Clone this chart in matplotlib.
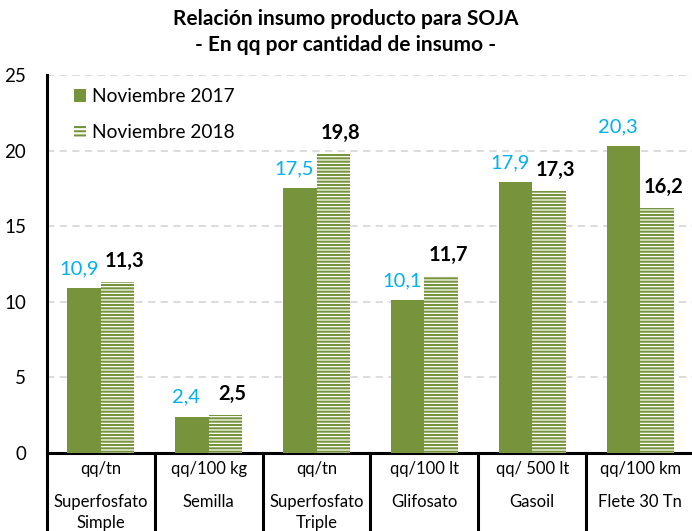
import matplotlib
matplotlib.use("Agg")
import matplotlib.pyplot as plt
from matplotlib.patches import Patch
import numpy as np

plt.rcParams['font.family'] = ['Lato', 'DejaVu Sans']
plt.rcParams['hatch.linewidth'] = 1.5

units = ["qq/tn", "qq/100 kg", "qq/tn", "qq/100 lt", "qq/ 500 lt", "qq/100 km"]
names = ["Superfosfato\nSimple", "Semilla", "Superfosfato\nTriple", "Glifosato", "Gasoil", "Flete 30 Tn"]
nov2017 = [10.9, 2.4, 17.5, 10.1, 17.9, 20.3]
nov2018 = [11.3, 2.5, 19.8, 11.7, 17.3, 16.2]
series_names = ["Noviembre 2017", "Noviembre 2018"]
yticks = [0, 5, 10, 15, 20, 25]

green = "#77933C"
blue = "#00B0F0"

W, H = 692, 531
fig = plt.figure(figsize=(W / 100, H / 100), dpi=100)
ax = fig.add_axes([47 / W, (H - 453) / H, (694 - 47) / W, (453 - 75) / H])

x = np.arange(len(units))
bw = 0.31
b1 = ax.bar(x - bw / 2, nov2017, bw, color=green, edgecolor=green, linewidth=0, zorder=3)
b2 = ax.bar(x + bw / 2, nov2018, bw, facecolor="white", edgecolor=green, hatch="-----",
            linewidth=0, zorder=3)

ax.set_xlim(-0.5, len(units) - 0.5)
ax.set_ylim(0, 25)
ax.set_yticks(yticks)
ax.set_yticklabels([str(t) for t in yticks], fontsize=13.5)
ax.tick_params(axis='y', length=0, pad=15)
ax.set_xticks([])
ax.yaxis.grid(True, color="#D9D9D9", linestyle=(0, (4, 3)), linewidth=1.3, zorder=0)
ax.set_axisbelow(True)
for s in ["top", "right"]:
    ax.spines[s].set_visible(False)
ax.spines["left"].set_linewidth(2.2)
ax.spines["bottom"].set_linewidth(2.2)

def fmt(v):
    return f"{v:.1f}".replace(".", ",")

for xi, v in zip(x, nov2017):
    ax.annotate(fmt(v), (xi - bw / 2, v), xytext=(-4, 8), textcoords="offset points",
                ha="center", va="bottom", color=blue, fontsize=14.5)
for xi, v in zip(x, nov2018):
    ax.annotate(fmt(v), (xi + bw / 2, v), xytext=(5, 8), textcoords="offset points",
                ha="center", va="bottom", color="black", fontsize=14.5, fontweight="bold")

# category table below axis
trans = ax.get_xaxis_transform()
for b in np.arange(len(units) + 1) - 0.5:
    ax.plot([b, b], [0, -0.3], transform=trans, color="black", linewidth=2.2, clip_on=False)
for xi, u, n in zip(x, units, names):
    ax.annotate(u, (xi, 0), xycoords=trans, xytext=(0, -11.5), textcoords="offset points",
                ha="center", va="center", fontsize=12)
    ax.annotate(n, (xi, 0), xycoords=trans, xytext=(0, -29.5), textcoords="offset points",
                ha="center", va="top", fontsize=12, linespacing=1.35)

handles = [Patch(facecolor=green, edgecolor=green, linewidth=0),
           Patch(facecolor="white", edgecolor=green, hatch="----", linewidth=0)]
ax.legend(handles, series_names, loc="upper left", bbox_to_anchor=(0.015, 1.01),
          frameon=False, fontsize=13.8, handlelength=0.65, handleheight=0.65,
          handletextpad=0.3, labelspacing=0.95)

fig.text(0.5, 1 - 19 / H, "Relación insumo producto para SOJA", ha="center", va="center",
         fontsize=15, fontweight="bold")
fig.text(0.5, 1 - 45 / H, "- En qq por cantidad de insumo -", ha="center", va="center",
         fontsize=15, fontweight="bold")

fig.savefig("out.png", dpi=100)
